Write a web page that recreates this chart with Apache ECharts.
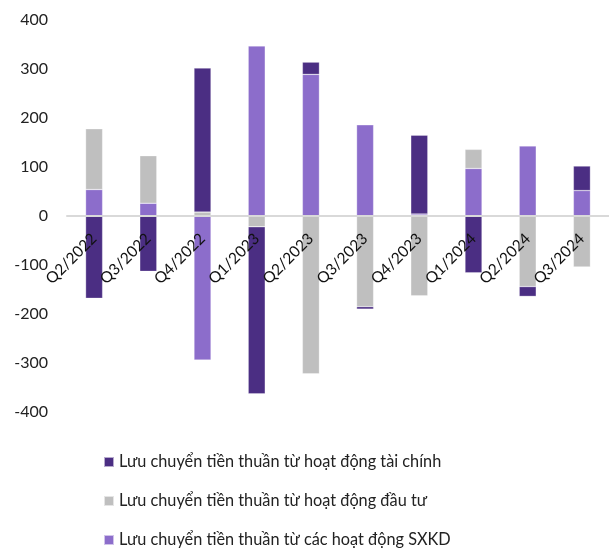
<!DOCTYPE html>
<html><head><meta charset="utf-8">
<script src="https://cdn.jsdelivr.net/npm/echarts@6/dist/echarts.min.js"></script>
<style>html,body{margin:0;padding:0;background:#fff}#c{width:609px;height:548px}</style>
</head><body><div id="c"></div>
<script>
var categories = ['Q2/2022','Q3/2022','Q4/2022','Q1/2023','Q2/2023','Q3/2023','Q4/2023','Q1/2024','Q2/2024','Q3/2024'];
var operating = [54, 26, -294, 347, 289, 186, 4, 97, 143, 52];
var investing = [124, 97, 8, -22, -322, -185, -163, 39, -144, -104];
var financing = [-168, -113, 294, -341, 25, -5, 161, -116, -20, 50];
var yTicks = [-400, -300, -200, -100, 0, 100, 200, 300, 400];

var nameFin = 'Lưu chuyển tiền thuần từ hoạt động tài chính';
var nameInv = 'Lưu chuyển tiền thuần từ hoạt động đầu tư';
var nameOp = 'Lưu chuyển tiền thuần từ các hoạt động SXKD';

var chart = echarts.init(document.getElementById('c'));
var font = 'Lato';
function bar(name, data, color) {
  return {name: name, type: 'bar', stack: 'a', data: data, barWidth: 17,
    itemStyle: {color: color, borderColor: 'rgba(255,255,255,0.6)', borderWidth: 0.5}};
}
function leg(name, top) {
  return {orient: 'horizontal', left: 98, top: top, itemWidth: 10, itemHeight: 10, itemTextGap: 3,
    icon: 'rect', data: [name], selectedMode: false,
    textStyle: {fontFamily: font, fontSize: 16.3, color: '#222'}};
}
var gridTop = 20, gridH = 392;
chart.setOption({
  animation: false,
  textStyle: {fontFamily: font},
  grid: {left: 67, right: -3, top: gridTop, height: gridH},
  legend: [leg(nameFin, 449), leg(nameInv, 488), leg(nameOp, 527)],
  xAxis: {
    type: 'category', data: categories, position: 'bottom', offset: -gridH / 2, z: 10,
    axisLine: {onZero: false, lineStyle: {color: '#d9d9d9', width: 2}},
    axisTick: {show: false},
    axisLabel: {rotate: 45, fontSize: 15.5, color: '#111', margin: 20, fontFamily: font}
  },
  yAxis: {
    type: 'value', min: yTicks[0], max: yTicks[yTicks.length - 1], interval: 100,
    splitLine: {show: false}, axisLine: {show: false}, axisTick: {show: false},
    axisLabel: {fontSize: 16, color: '#222', margin: 19, fontFamily: font}
  },
  series: [
    bar(nameOp, operating, '#8c6dcb'),
    bar(nameInv, investing, '#bfbfbf'),
    bar(nameFin, financing, '#4b2e83')
  ]
});
</script></body></html>
